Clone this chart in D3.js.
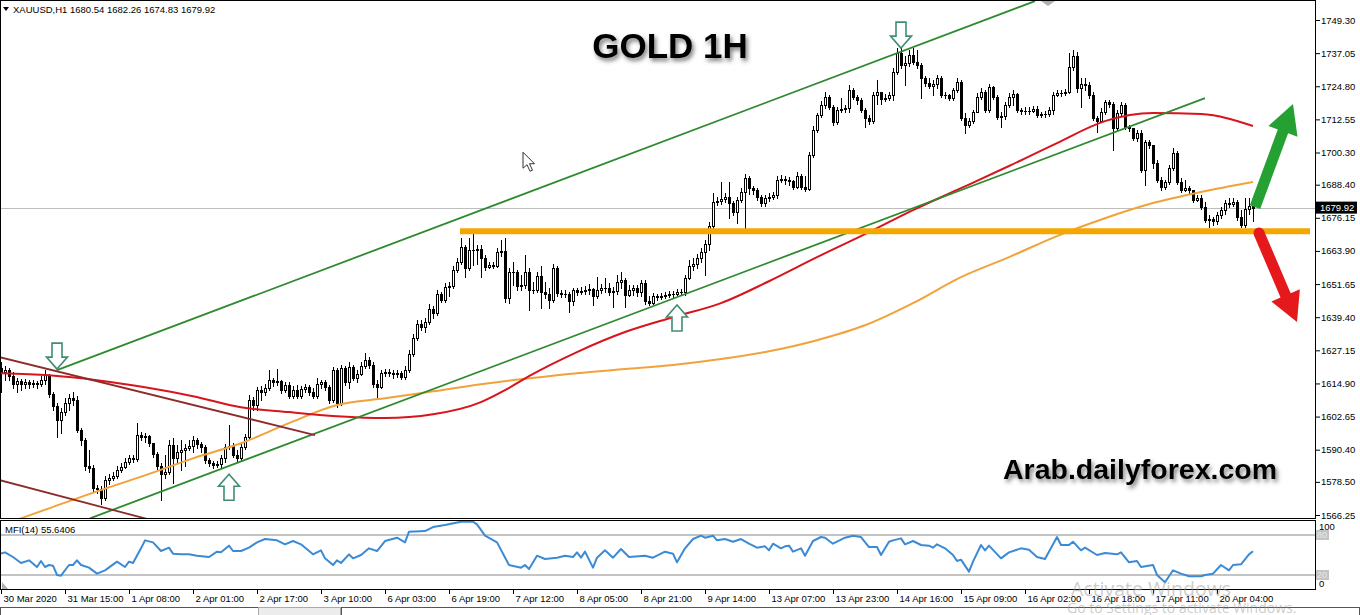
<!DOCTYPE html>
<html><head><meta charset="utf-8">
<script src="https://cdn.jsdelivr.net/npm/d3@7"></script>
<style>
html,body{margin:0;padding:0;background:#fff;overflow:hidden}
svg{display:block;font-family:"Liberation Sans",Arial,sans-serif}
</style></head><body>
<svg id="chart" width="1360" height="615"></svg>
<script>
// ---------------- DATA ----------------
const symbolLabel = "XAUUSD,H1";
const lastBar = {open:1680.54, high:1682.26, low:1674.83, close:1679.92};
const firstOpen = 1620.5;
const closes = [
1619.1,1619.8,1617.6,1614.6,1615.7,1614.6,1615.4,1614.6,1615.0,1614.6,
1616.1,1618.0,1610.9,1606.5,1601.3,1604.3,1607.6,1609.4,1608.7,1597.6,
1593.9,1584.3,1583.5,1576.1,1575.8,1572.4,1579.1,1579.8,1580.6,1582.8,
1583.9,1585.8,1587.2,1586.9,1595.8,1595.0,1595.4,1592.8,1588.7,1584.3,
1581.3,1582.1,1592.1,1587.2,1589.5,1590.2,1590.9,1591.7,1593.9,1592.4,
1591.3,1586.5,1585.4,1584.7,1585.0,1587.2,1591.3,1591.7,1588.4,1587.2,
1591.3,1595.0,1608.7,1606.9,1612.4,1611.7,1613.1,1616.1,1615.4,1615.7,
1612.4,1614.3,1610.2,1612.4,1610.2,1612.8,1613.5,1611.7,1610.2,1614.6,
1615.4,1613.5,1608.7,1619.8,1607.6,1620.5,1615.4,1620.9,1616.8,1618.3,
1621.3,1623.5,1621.7,1614.6,1613.5,1618.7,1619.1,1618.7,1618.3,1618.7,
1617.2,1619.8,1625.7,1631.6,1636.8,1635.7,1637.6,1642.4,1640.9,1647.9,
1645.7,1650.5,1650.9,1656.8,1659.8,1665.3,1657.5,1664.2,1664.2,1664.6,
1661.2,1657.9,1658.7,1658.3,1663.5,1663.8,1646.4,1656.1,1656.1,1650.9,
1651.3,1656.1,1649.4,1649.4,1654.6,1648.7,1647.9,1645.7,1657.5,1648.3,
1647.9,1647.9,1645.3,1649.4,1648.7,1649.0,1649.4,1649.8,1647.2,1649.4,
1650.1,1650.1,1648.7,1649.0,1652.4,1653.1,1647.6,1649.4,1650.1,1648.7,
1652.0,1645.3,1644.6,1647.2,1646.8,1647.2,1647.6,1647.9,1647.9,1648.7,
1648.7,1653.8,1658.3,1659.0,1661.2,1663.5,1666.4,1673.1,1682.0,1682.3,
1683.1,1683.8,1681.6,1678.3,1682.7,1685.7,1690.8,1687.1,1686.4,1683.8,
1681.6,1683.4,1683.8,1684.6,1690.1,1690.5,1690.1,1689.7,1687.5,1691.6,
1687.5,1686.8,1699.4,1708.6,1714.2,1717.9,1720.8,1717.1,1711.6,1716.0,
1716.4,1716.7,1723.4,1720.8,1719.7,1716.0,1713.0,1711.9,1721.6,1722.7,
1720.1,1720.4,1721.6,1730.1,1737.1,1732.7,1733.4,1736.4,1733.8,1732.7,
1727.8,1726.0,1724.9,1725.6,1727.8,1721.6,1721.6,1720.4,1723.4,1726.4,
1713.0,1710.5,1711.9,1715.3,1720.8,1722.7,1716.0,1724.5,1720.8,1713.4,
1713.8,1717.9,1720.8,1721.9,1716.0,1715.6,1715.6,1715.6,1716.4,1714.2,
1714.5,1714.5,1716.0,1721.6,1722.3,1722.3,1722.7,1731.9,1736.0,1724.1,
1725.6,1725.2,1721.6,1713.0,1711.9,1715.3,1719.0,1718.2,1709.3,1714.9,
1717.9,1709.7,1709.3,1705.6,1707.5,1693.8,1704.2,1703.0,1696.4,1690.1,
1687.5,1689.4,1694.5,1700.1,1689.4,1686.4,1687.1,1686.4,1682.7,1683.4,
1680.1,1675.3,1675.7,1674.9,1677.2,1679.0,1681.6,1681.2,1682.0,1676.4,
1673.5,1679.4,1680.54,1679.92];
const highs = [
1622.8,1621.3,1620.5,1619.1,1616.8,1616.5,1616.5,1616.1,1616.1,1615.7,
1617.6,1619.8,1618.3,1611.7,1607.6,1605.7,1609.4,1610.9,1611.7,1610.2,
1598.3,1594.6,1590.2,1584.7,1577.3,1576.9,1580.6,1581.3,1582.1,1584.3,
1585.4,1587.2,1588.4,1588.4,1600.2,1596.9,1596.5,1595.8,1592.8,1589.5,
1585.4,1588.4,1593.9,1594.6,1592.1,1593.9,1592.4,1593.9,1595.4,1594.6,
1593.2,1592.1,1587.2,1586.1,1586.1,1588.4,1592.4,1599.5,1592.8,1590.2,
1592.4,1596.1,1610.6,1609.8,1613.5,1613.9,1614.6,1619.8,1616.8,1620.2,
1616.1,1615.4,1615.4,1613.9,1614.3,1613.9,1614.6,1614.3,1613.1,1616.8,
1616.1,1616.1,1614.3,1620.9,1620.5,1621.7,1621.3,1622.8,1621.7,1619.8,
1622.8,1626.1,1624.6,1622.8,1616.1,1619.8,1620.2,1620.2,1619.8,1619.8,
1619.4,1621.3,1627.2,1633.1,1638.3,1638.3,1639.0,1644.2,1643.5,1649.4,
1648.7,1652.0,1652.4,1658.3,1661.2,1668.6,1666.1,1668.6,1670.5,1666.1,
1666.1,1662.4,1659.8,1659.8,1664.9,1667.9,1668.6,1657.5,1659.8,1656.8,
1655.0,1662.4,1657.5,1652.4,1656.1,1658.3,1652.4,1650.1,1659.0,1658.3,
1649.4,1649.4,1648.7,1650.1,1650.1,1650.5,1650.9,1651.6,1650.1,1654.2,
1651.6,1653.8,1652.0,1650.5,1655.0,1656.1,1653.8,1651.3,1651.3,1651.3,
1653.1,1653.1,1647.2,1648.3,1647.9,1648.3,1648.7,1649.0,1649.0,1649.8,
1649.8,1655.0,1660.5,1661.2,1662.7,1664.9,1667.9,1674.6,1685.3,1683.8,
1689.4,1685.3,1689.4,1682.3,1683.8,1687.1,1692.3,1691.6,1687.9,1687.1,
1684.6,1684.6,1685.3,1685.7,1691.6,1692.0,1691.6,1691.2,1690.1,1693.1,
1692.3,1691.6,1700.5,1710.1,1714.9,1719.3,1722.7,1721.6,1717.9,1717.1,
1720.4,1717.9,1725.2,1724.1,1721.6,1720.4,1716.7,1714.2,1722.7,1727.1,
1721.6,1721.9,1722.7,1731.5,1738.9,1738.9,1736.0,1738.2,1738.9,1738.2,
1733.4,1728.6,1727.8,1727.1,1728.9,1728.6,1722.7,1721.9,1724.1,1727.8,
1727.1,1714.9,1713.0,1716.0,1722.3,1724.1,1723.4,1725.6,1724.9,1721.6,
1715.3,1719.0,1722.3,1723.4,1722.3,1716.7,1717.1,1717.1,1717.5,1717.5,
1715.3,1715.6,1717.1,1722.7,1723.4,1723.4,1723.8,1737.1,1738.2,1737.5,
1727.8,1727.8,1726.4,1722.7,1713.8,1716.7,1719.7,1719.7,1719.0,1716.0,
1719.0,1718.6,1710.5,1709.3,1708.6,1708.6,1704.9,1704.9,1703.0,1697.5,
1691.2,1690.1,1695.7,1701.9,1700.8,1690.8,1690.1,1687.9,1686.4,1684.6,
1684.6,1682.0,1677.2,1676.4,1678.3,1680.1,1682.7,1683.4,1683.4,1682.7,
1679.0,1683.4,1683.4,1682.26];
const lows = [
1611.7,1616.1,1616.1,1613.1,1611.7,1612.4,1613.1,1613.1,1613.5,1613.1,
1613.9,1614.6,1609.8,1605.0,1595.0,1596.5,1603.2,1605.0,1606.9,1596.9,
1592.1,1582.8,1582.1,1575.0,1574.3,1570.2,1571.7,1577.6,1579.1,1579.8,
1582.1,1583.5,1585.0,1585.8,1586.1,1593.9,1593.2,1591.7,1587.6,1583.2,
1571.7,1579.8,1581.3,1578.0,1585.8,1582.8,1584.3,1590.2,1589.5,1590.9,
1589.5,1585.4,1584.3,1583.5,1583.9,1583.9,1585.8,1590.6,1587.6,1586.1,
1586.5,1590.6,1594.6,1605.0,1605.0,1608.7,1610.6,1612.4,1613.9,1614.3,
1611.3,1611.7,1609.4,1609.4,1609.4,1609.4,1611.7,1610.6,1609.4,1609.4,
1613.1,1612.4,1607.6,1608.0,1606.1,1606.9,1614.3,1613.1,1616.1,1615.4,
1618.0,1620.5,1620.5,1613.5,1609.8,1613.1,1617.6,1617.6,1616.8,1617.2,
1616.5,1616.5,1619.1,1625.0,1630.9,1634.6,1633.9,1636.8,1639.0,1640.2,
1645.0,1645.0,1647.2,1650.1,1656.1,1659.0,1654.2,1656.8,1658.7,1659.0,
1654.2,1656.8,1657.5,1657.5,1657.9,1662.0,1645.0,1644.6,1651.3,1649.4,
1649.4,1650.1,1642.0,1648.3,1648.7,1642.7,1646.4,1642.7,1645.0,1647.2,
1646.8,1646.8,1641.3,1643.9,1647.6,1647.9,1647.9,1647.9,1643.9,1646.4,
1648.3,1648.7,1647.6,1643.1,1647.9,1650.1,1643.1,1647.2,1647.6,1647.2,
1647.2,1644.2,1643.9,1644.2,1645.7,1646.1,1646.4,1646.8,1646.8,1647.6,
1647.6,1647.6,1653.5,1656.8,1657.5,1659.8,1655.0,1664.2,1672.3,1680.9,
1681.2,1682.0,1676.0,1677.2,1674.2,1682.0,1672.3,1684.9,1684.9,1682.7,
1680.5,1680.5,1682.3,1683.1,1683.4,1689.4,1688.6,1688.3,1686.8,1687.1,
1686.8,1686.0,1686.4,1698.6,1707.9,1713.4,1716.7,1716.4,1710.5,1710.8,
1715.3,1715.3,1715.3,1720.1,1718.2,1715.3,1709.7,1710.8,1711.2,1718.2,
1718.2,1719.3,1719.7,1719.7,1729.3,1731.5,1725.2,1732.3,1733.0,1731.5,
1720.4,1724.9,1724.1,1721.6,1724.1,1720.8,1720.4,1719.7,1719.7,1722.7,
1712.3,1707.5,1709.7,1711.2,1715.3,1720.1,1715.3,1715.3,1720.1,1712.7,
1709.7,1712.7,1717.1,1717.9,1715.3,1714.5,1714.5,1714.5,1715.3,1713.4,
1713.4,1713.4,1713.8,1714.5,1721.2,1721.2,1721.6,1722.3,1730.8,1722.7,
1717.1,1723.4,1720.4,1712.3,1707.9,1711.6,1714.5,1717.1,1701.2,1708.6,
1713.8,1709.0,1708.2,1704.9,1704.5,1693.1,1688.3,1701.9,1694.5,1689.4,
1686.4,1686.8,1688.6,1693.8,1688.6,1685.7,1686.0,1685.3,1682.0,1682.3,
1679.4,1674.6,1672.7,1673.5,1673.8,1676.0,1677.5,1680.1,1680.5,1675.3,
1672.7,1672.7,1677.5,1674.83];

const priceTicks = [1749.30,1737.05,1724.80,1712.55,1700.30,1688.40,1676.15,1663.90,1651.65,1639.40,1627.15,1614.90,1602.65,1590.40,1578.50,1566.25];
const timeTickIdx = [0,16,32,48,64,80,96,112,128,144,160,176,192,208,224,240,256,272,288,304];
const timeTickLabels = ["30 Mar 2020","31 Mar 15:00","1 Apr 08:00","2 Apr 01:00","2 Apr 17:00","3 Apr 10:00","6 Apr 03:00","6 Apr 19:00","7 Apr 12:00","8 Apr 05:00","8 Apr 21:00","9 Apr 14:00","13 Apr 07:00","13 Apr 23:00","14 Apr 16:00","15 Apr 09:00","16 Apr 02:00","16 Apr 18:00","17 Apr 11:00","20 Apr 04:00"];

// moving averages
const maRedIdx = [0,12,24,36,48,60,72,84,96,108,120,126,132,144,156,168,180,192,204,216,228,240,252,264,276,288,300,313];
const maRed = [1618.7,1617.9,1616.1,1613.5,1610.2,1606.1,1604.3,1602.8,1602.1,1603.5,1608.0,1612.4,1617.6,1626.5,1633.9,1639.4,1644.6,1652.7,1661.6,1670.1,1679.0,1687.1,1695.3,1703.8,1711.9,1714.9,1714.5,1710.1];
const maOrangeIdx = [0,12,24,36,48,60,72,84,96,108,120,132,144,156,168,180,192,204,216,228,240,252,264,276,288,300,313];
const maOrange = [1562.4,1568.7,1575.0,1580.9,1587.2,1592.8,1600.2,1606.9,1609.4,1612.0,1614.6,1616.8,1618.7,1620.2,1621.7,1623.9,1626.8,1630.9,1636.4,1644.6,1654.2,1661.6,1669.4,1676.0,1681.6,1685.7,1689.4];

// MFI(14)
const mfiIdx = [0,1,3,5,7,9,10,11,12,13,14,15,17,18,19,20,22,24,26,29,31,32,33,35,36,38,40,42,43,45,47,49,52,54,55,57,58,60,62,64,66,69,71,73,75,78,80,81,83,84,85,87,88,90,92,94,96,99,101,102,106,108,111,115,118,119,121,124,127,130,131,132,134,136,139,141,143,144,145,146,148,149,151,153,155,157,161,163,166,168,169,171,173,175,176,178,179,181,183,185,187,189,191,192,193,195,196,197,198,200,201,203,205,206,208,211,213,215,217,219,220,222,223,225,226,228,230,232,233,234,236,238,239,240,242,243,245,246,247,250,252,255,257,259,261,264,265,267,268,270,271,274,276,279,280,282,284,285,288,289,291,293,295,297,300,301,303,305,307,308,310,312,313];
const mfiVal = [52,54,47,38,42,32,41,32,35,34,20,19,35,35,42,35,31,22,27,40,32,40,38,60,72,69,56,61,52,51,51,49,47,55,54,64,56,56,61,69,74,72,66,71,66,51,57,45,35,42,38,51,45,50,60,56,71,76,69,85,86,92,95,100,100,96,79,69,35,31,35,29,49,44,46,49,47,54,46,55,31,46,57,46,59,47,49,46,55,52,39,60,74,79,76,79,72,74,70,74,67,61,63,57,67,60,63,64,55,60,49,71,77,76,67,76,79,77,62,62,50,70,72,75,66,71,65,64,61,66,60,50,41,43,25,40,65,57,64,45,54,60,58,47,44,77,65,65,70,57,61,50,53,51,54,39,41,32,35,20,9,27,22,18,18,20,22,35,27,35,36,51,55.64];
const mfiLevels = [80,20];
const mfiLabel = "MFI(14) 55.6406";

// drawn objects: [barIndex, price]
const channelUpper = [[14,1619.8],[258.5,1756.3]];
const channelLower = [[22.25,1565.0],[301,1720.4]];
const downLine1 = [[-0.25,1624.6],[78.5,1595.8]];
const downLine2 = [[-0.25,1579.1],[36.75,1564.7]];
const supportLine = [[114.75,1671.2],[327.25,1671.2]];
const downArrows = [[14,1620.2],[225,1738.9]];
const upArrows = [[57,1581.3],[169,1643.9]];
const bullArrow = [[313.5,1680.1],[323,1718.2]];
const bearArrow = [[314.5,1670.5],[324,1637.6]];
const cursorAt = [130.5,1700.4];
const titleText = "GOLD 1H";
const siteText = "Arab.dailyforex.com";

// ---------------- DRAW ----------------
const svg = d3.select('#chart');
const PR = 1315; // right edge of plot
const x = d3.scaleLinear().domain([0,313]).range([1,1253]);
const y = d3.scaleLinear().domain([1566.25,1749.30]).range([515,20]);
const ym = d3.scaleLinear().domain([0,100]).range([588.3,521.7]);

const defs = svg.append('defs');
defs.append('clipPath').attr('id','clipMain').append('rect').attr('x',1).attr('y',1).attr('width',PR-1).attr('height',517);
defs.append('clipPath').attr('id','clipMfi').append('rect').attr('x',1).attr('y',521).attr('width',PR-1).attr('height',68);
const flt = defs.append('filter').attr('id','shadow').attr('x','-10%').attr('y','-40%').attr('width','130%').attr('height','200%');
flt.append('feDropShadow').attr('dx',2).attr('dy',3).attr('stdDeviation',2).attr('flood-color','#444').attr('flood-opacity',0.7);

svg.append('rect').attr('width',1360).attr('height',615).attr('fill','#fff');

const main = svg.append('g').attr('clip-path','url(#clipMain)');

// current price line
main.append('line').attr('x1',0).attr('x2',PR).attr('y1',Math.round(y(lastBar.close))+0.5).attr('y2',Math.round(y(lastBar.close))+0.5)
  .attr('stroke','#bdbdbd').attr('stroke-width',1);

// candles
const bars = closes.map((c,i)=>({i, o: i===0?firstOpen:closes[i-1], c, h:highs[i], l:lows[i]}));
const gC = main.append('g');
gC.selectAll('rect.wick').data(bars).join('rect').attr('class','wick')
  .attr('x',d=>Math.round(x(d.i)))
  .attr('y',d=>Math.round(y(Math.max(d.h,d.o,d.c))))
  .attr('width',1)
  .attr('height',d=>Math.max(1,Math.round(y(Math.min(d.l,d.o,d.c)))-Math.round(y(Math.max(d.h,d.o,d.c)))+1))
  .attr('fill','#000');
const bodyTop = d=>Math.round(y(Math.max(d.o,d.c)));
const bodyH = d=>Math.max(1,Math.round(y(Math.min(d.o,d.c)))-bodyTop(d)+1);
gC.selectAll('rect.body').data(bars).join('rect').attr('class','body')
  .attr('x',d=>Math.round(x(d.i))-1).attr('y',bodyTop).attr('width',3).attr('height',bodyH).attr('fill','#000');
gC.selectAll('rect.hollow').data(bars.filter(d=>d.c>d.o && bodyH(d)>2)).join('rect').attr('class','hollow')
  .attr('x',d=>Math.round(x(d.i))).attr('y',d=>bodyTop(d)+1).attr('width',1).attr('height',d=>bodyH(d)-2).attr('fill','#fff');

// moving averages
const curveLine = d3.line().x(d=>x(d[0])).y(d=>y(d[1])).curve(d3.curveMonotoneX);
main.append('path').datum(d3.zip(maOrangeIdx,maOrange)).attr('d',curveLine).attr('fill','none').attr('stroke','#f2a23a').attr('stroke-width',2);
main.append('path').datum(d3.zip(maRedIdx,maRed)).attr('d',curveLine).attr('fill','none').attr('stroke','#d8141c').attr('stroke-width',2);

// trend lines
const straight = d3.line().x(d=>x(d[0])).y(d=>y(d[1]));
[[channelUpper,'#2f8a2f'],[channelLower,'#2f8a2f'],[downLine1,'#8e2a2a'],[downLine2,'#8e2a2a']].forEach(([pts,col])=>{
  main.append('path').datum(pts).attr('d',straight).attr('fill','none').attr('stroke',col).attr('stroke-width',1.8);
});
main.append('path').datum(supportLine).attr('d',straight).attr('fill','none').attr('stroke','#f5a700').attr('stroke-width',6);

// hollow arrows
const ga = main.append('g').attr('fill','#fff').attr('stroke','#3f8e72').attr('stroke-width',1.6);
const downShape = "M0,0 L-10.5,-12 L-5,-12 L-5,-26 L5,-26 L5,-12 L10.5,-12 Z";
ga.selectAll('path.da').data(downArrows).join('path').attr('class','da')
  .attr('transform',d=>`translate(${x(d[0])},${y(d[1])})`).attr('d',downShape);
ga.selectAll('path.ua').data(upArrows).join('path').attr('class','ua')
  .attr('transform',d=>`translate(${x(d[0])},${y(d[1])}) scale(1,-1)`).attr('d',downShape);

// big direction arrows
function bigArrow(p0,p1,color,shaftW,headW,headL,roundStart){
  const x0=x(p0[0]),y0=y(p0[1]),x1=x(p1[0]),y1=y(p1[1]);
  const dx=x1-x0,dy=y1-y0,L=Math.hypot(dx,dy),ux=dx/L,uy=dy/L,nx=-uy,ny=ux;
  const bx=x1-ux*headL,by=y1-uy*headL;
  const pts=[[x0+nx*shaftW/2,y0+ny*shaftW/2],[bx+nx*shaftW/2,by+ny*shaftW/2],[bx+nx*headW/2,by+ny*headW/2],[x1,y1],
             [bx-nx*headW/2,by-ny*headW/2],[bx-nx*shaftW/2,by-ny*shaftW/2],[x0-nx*shaftW/2,y0-ny*shaftW/2]];
  svg.append('polygon').attr('points',pts.map(p=>p.join(',')).join(' ')).attr('fill',color);
  if(roundStart) svg.append('circle').attr('cx',x0).attr('cy',y0).attr('r',shaftW/2).attr('fill',color);
}
bigArrow(bullArrow[0],bullArrow[1],'#24a132',11,31,29,false);
bigArrow(bearArrow[0],bearArrow[1],'#e5191b',11,31,29,true);

// mouse cursor
svg.append('path').attr('transform',`translate(${x(cursorAt[0])},${y(cursorAt[1])})`)
  .attr('d','M0,0 L0,16 L4,12.5 L7,19 L9.5,18 L6.5,11.5 L11.5,11.5 Z').attr('fill','#fff').attr('stroke','#333').attr('stroke-width',1);

// texts
svg.append('text').attr('x',670).attr('y',58).attr('text-anchor','middle').attr('font-size',35).attr('font-weight','bold')
  .attr('fill','#000').attr('filter','url(#shadow)').text(titleText);
svg.append('text').attr('x',1003).attr('y',479).attr('font-size',28.5).attr('font-weight','bold')
  .attr('fill','#000').attr('filter','url(#shadow)').text(siteText);
svg.append('path').attr('d','M3,7 L9,7 L6,11 Z').attr('fill','#000');
svg.append('text').attr('x',13).attr('y',13).attr('font-size',9.5).attr('fill','#000')
  .text(`${symbolLabel}  ${lastBar.open.toFixed(2)} ${lastBar.high.toFixed(2)} ${lastBar.low.toFixed(2)} ${lastBar.close.toFixed(2)}`);

// chart shift marker
svg.append('path').attr('d','M1041,1 L1055,1 L1048,6 Z').attr('fill','#b0b0b0');

// ---------------- MFI panel ----------------
const mfiG = svg.append('g').attr('clip-path','url(#clipMfi)');
mfiG.selectAll('line.lvl').data(mfiLevels).join('line').attr('class','lvl')
  .attr('x1',1).attr('x2',PR).attr('y1',d=>ym(d)).attr('y2',d=>ym(d)).attr('stroke','#c4c4c4').attr('stroke-width',2);
mfiG.append('path').datum(d3.zip(mfiIdx,mfiVal))
  .attr('d',d3.line().x(d=>x(d[0])).y(d=>ym(d[1])))
  .attr('fill','none').attr('stroke','#3b8ad6').attr('stroke-width',2).attr('stroke-linejoin','round');
svg.append('text').attr('x',5).attr('y',533).attr('font-size',9.5).attr('fill','#000').text(mfiLabel);
svg.append('path').attr('d','M2,582 L2,589 L8,589 Z').attr('fill','#b0b0b0');

// frames
svg.append('rect').attr('x',0.5).attr('y',0.5).attr('width',PR).attr('height',518).attr('fill','none').attr('stroke','#000');
svg.append('rect').attr('x',0.5).attr('y',520.5).attr('width',PR).attr('height',69).attr('fill','none').attr('stroke','#000');

// price axis
const yAx = svg.append('g').attr('transform',`translate(${PR+1},0)`)
  .call(d3.axisRight(y).tickValues(priceTicks).tickFormat(d3.format('.2f')).tickSize(4).tickPadding(1));
yAx.select('.domain').remove();
yAx.attr('font-family','"Liberation Sans",Arial,sans-serif').attr('font-size',9.5);
yAx.selectAll('line').attr('stroke','#000');
yAx.selectAll('text').attr('fill','#000');

// current price tag
const cy = y(lastBar.close);
svg.append('rect').attr('x',PR+1).attr('y',cy-6).attr('width',41).attr('height',12).attr('fill','#000');
svg.append('text').attr('x',PR+5).attr('y',cy).attr('dy','0.35em').attr('font-size',9.5).attr('fill','#fff').text(lastBar.close.toFixed(2));

// MFI axis
const mAx = svg.append('g').attr('transform',`translate(${PR+1},0)`);
[100,80,20,0].forEach(v=>{
  const yy = v===0 ? 584 : (v===100 ? 527 : ym(v));
  if(v===80||v===20){
    mAx.append('rect').attr('x',0).attr('y',yy-5).attr('width',13).attr('height',10).attr('fill','#c4c4c4');
    mAx.append('text').attr('x',1).attr('y',yy).attr('dy','0.35em').attr('font-size',9).attr('fill','#e8e8e8').text(v);
  } else {
    mAx.append('text').attr('x',3).attr('y',yy).attr('dy','0.35em').attr('font-size',9.5).attr('fill','#000').text(v);
  }
});

// time axis
const xAx = svg.append('g').attr('transform','translate(0,590)')
  .call(d3.axisBottom(x).tickValues(timeTickIdx).tickFormat((d,i)=>timeTickLabels[i]).tickSize(4).tickPadding(1));
xAx.select('.domain').remove();
xAx.attr('font-family','"Liberation Sans",Arial,sans-serif').attr('font-size',9.5);
xAx.selectAll('line').attr('stroke','#000');
xAx.selectAll('text').attr('fill','#000').attr('text-anchor','start').attr('x',2);

// bottom tab strip
svg.append('rect').attr('x',0.5).attr('y',607.5).attr('width',258).attr('height',10).attr('fill','#fff').attr('stroke','#555');
svg.append('rect').attr('x',258.5).attr('y',607.5).attr('width',82).attr('height',10).attr('fill','#ececec').attr('stroke','#aaa');
svg.append('rect').attr('x',341.5).attr('y',607.5).attr('width',1018).attr('height',10).attr('fill','#fff').attr('stroke','#555');

// OS watermark (faint, as in the screenshot)
svg.append('text').attr('x',1071).attr('y',596).attr('font-family','"Open Sans","Noto Sans",sans-serif').attr('font-size',19.5)
  .attr('fill','#9a9a9a').attr('fill-opacity',0.5).text('Activate Windows');
svg.append('text').attr('x',1067).attr('y',613).attr('font-family','"Open Sans","Noto Sans",sans-serif').attr('font-size',14)
  .attr('fill','#9a9a9a').attr('fill-opacity',0.5).text('Go to Settings to activate Windows.');
</script>
</body></html>
